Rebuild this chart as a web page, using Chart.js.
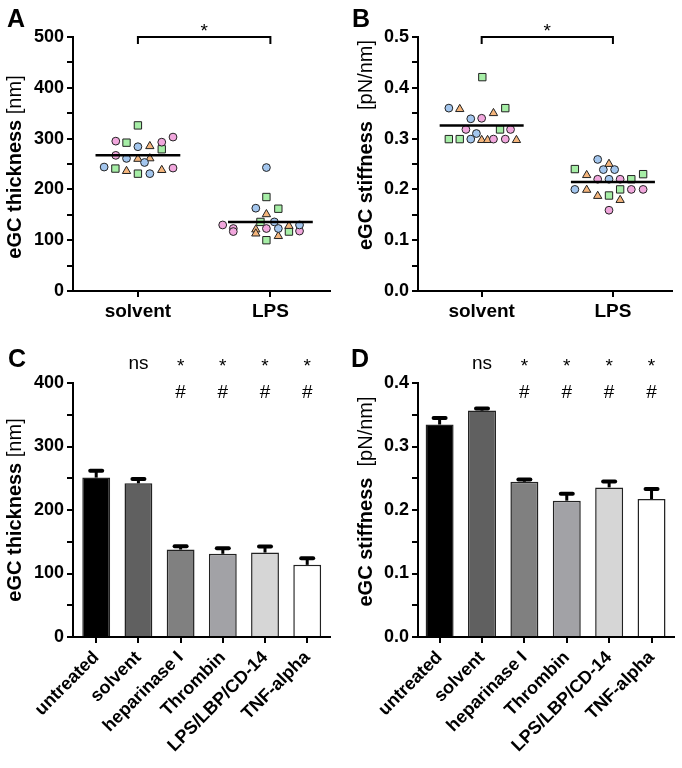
<!DOCTYPE html>
<html>
<head>
<meta charset="utf-8">
<script src="https://cdn.jsdelivr.net/npm/chart.js@4.4.1/dist/chart.umd.min.js"></script>
<style>
  body { margin: 0; background: #fff; }
  #fig { position: relative; width: 682px; height: 768px; }
  canvas { position: absolute; }
</style>
</head>
<body>
<div id="fig">
  <canvas id="chA" width="341" height="384" style="left:0;top:0"></canvas>
  <canvas id="chB" width="341" height="384" style="left:341px;top:0"></canvas>
  <canvas id="chC" width="341" height="438" style="left:0;top:330px"></canvas>
  <canvas id="chD" width="341" height="438" style="left:341px;top:330px"></canvas>
</div>
<script>
// ---- data ----
const groups = ['solvent', 'LPS'];

// panel A: eGC thickness [nm], single measurements; donor 0..3 = blue circle, pink circle, triangle, square
const thickSolvent   = [284, 261, 253, 244, 231, 295, 293, 303, 267, 242, 285, 260, 261, 236, 238, 326, 292, 279, 241, 231];
const thickSolventDx = [0, -0.086, 0.05, -0.255, 0.09, -0.167, 0.18, 0.265, -0.167, 0.265, 0.09, 0, 0.09, -0.086, 0.18, 0, -0.086, 0.18, -0.17, 0];
const thickLPS       = [243, 163, 136, 123, 130, 130, 123, 117, 123, 118, 151, 121, 113, 108, 128, 185, 162, 136, 117, 100];
const thickLPSDx     = [-0.03, -0.11, 0.03, 0.06, 0.22, -0.36, -0.28, -0.28, -0.03, 0.22, -0.03, -0.11, -0.11, 0.06, 0.14, -0.03, 0.06, -0.075, 0.14, -0.03];
const thickDonor     = [0, 0, 0, 0, 0, 1, 1, 1, 1, 1, 2, 2, 2, 2, 2, 3, 3, 3, 3, 3];
const thickMeans     = [267, 136];

// panel B: eGC stiffness [pN/nm]
const stiffSolvent        = [0.360, 0.339, 0.310, 0.299, 0.340, 0.318, 0.318, 0.299, 0.299, 0.358, 0.350, 0.297, 0.297, 0.297, 0.421, 0.360, 0.318, 0.299, 0.299];
const stiffSolventDx      = [-0.25, -0.083, -0.04, -0.083, 0, -0.12, 0.22, 0.09, 0.18, -0.167, 0.09, 0, 0.045, 0.265, 0.005, 0.18, 0.14, -0.25, -0.167];
const stiffSolventDonor   = [0, 0, 0, 0, 1, 1, 1, 1, 1, 2, 2, 2, 2, 2, 3, 3, 3, 3, 3];
const stiffLPS            = [0.259, 0.239, 0.239, 0.220, 0.200, 0.220, 0.220, 0.200, 0.200, 0.159, 0.250, 0.228, 0.199, 0.187, 0.179, 0.240, 0.230, 0.220, 0.200, 0.188];
const stiffLPSDx          = [-0.116, -0.073, 0.013, -0.03, -0.29, -0.116, 0.055, 0.14, 0.23, -0.03, -0.03, -0.2, -0.2, -0.116, 0.055, -0.29, 0.23, 0.14, 0.055, -0.03];
const stiffLPSDonor       = [0, 0, 0, 0, 0, 1, 1, 1, 1, 1, 2, 2, 2, 2, 2, 3, 3, 3, 3, 3];
const stiffMeans          = [0.326, 0.2146];

// panels C and D: treatments, mean + SEM
const treatments = ['untreated', 'solvent', 'heparinase I', 'Thrombin', 'LPS/LBP/CD-14', 'TNF-alpha'];
const thickBar    = [251, 242, 137.7, 131, 133, 113.6];
const thickErr    = [11, 6.7, 5.3, 8.8, 9.4, 10.4];
const stiffBar    = [0.3346, 0.3565, 0.2445, 0.2147, 0.2356, 0.2173];
const stiffErr    = [0.0104, 0.0032, 0.0035, 0.011, 0.0094, 0.0157];
const sigTop      = ['', 'ns', '*', '*', '*', '*'];
const sigBottom   = ['', '', '#', '#', '#', '#'];

// ---- styling ----
const FONT = '"Liberation Sans", Arial, sans-serif';
Chart.defaults.font.family = FONT;
Chart.defaults.color = '#000';

const donorStyle = [
  { pointStyle: 'circle',   color: '#a3c6ee', radius: 3.9 },
  { pointStyle: 'circle',   color: '#f1a7dd', radius: 3.9 },
  { pointStyle: 'triangle', color: '#f4b57c', radius: 4.8 },
  { pointStyle: 'rect',     color: '#a6eea6', radius: 5.2 }
];
const barColors = ['#000000', '#606060', '#808080', '#a2a2a6', '#d6d6d6', '#ffffff'];

function yAxis(max, step, labelStep, decimals, width) {
  return {
    min: 0, max: max,
    afterBuildTicks: ax => {
      const t = [];
      for (let k = 0; k * step <= max + 1e-9; k++) t.push({ value: Math.round(k * step * 1000) / 1000 });
      ax.ticks = t;
    },
    ticks: {
      font: { size: 18, weight: 'bold' }, color: '#000', padding: 3,
      callback: v => Math.abs(v / labelStep - Math.round(v / labelStep)) < 1e-6 ? v.toFixed(decimals) : ''
    },
    grid: { drawOnChartArea: false, drawTicks: true, tickLength: 6, color: '#000', lineWidth: 2 },
    border: { display: true, color: '#000', width: 2 },
    afterFit: s => { s.width = width; s.paddingTop = 0; s.paddingBottom = 0; }
  };
}

function xAxis(labels, min, max, height, rot, size) {
  return {
    type: 'linear', min: min, max: max, offset: false,
    afterBuildTicks: ax => { ax.ticks = labels.map((l, i) => ({ value: i })); },
    ticks: {
      font: { size: size, weight: 'bold' }, color: '#000', padding: rot ? 4 : 3,
      minRotation: rot, maxRotation: rot, autoSkip: false,
      callback: v => labels[v] !== undefined ? labels[v] : ''
    },
    grid: { offset: false, drawOnChartArea: false, drawTicks: true, tickLength: 6, color: '#000', lineWidth: 2 },
    border: { display: true, color: '#000', width: 2 },
    afterFit: s => { s.height = height; s.paddingLeft = 0; s.paddingRight = 0; }
  };
}

// extra drawing: panel letter, two-weight y title, bracket, error bars, significance marks
const extras = {
  id: 'extras',
  afterDatasetsDraw(chart, args, o) {
    const ctx = chart.ctx, xs = chart.scales.x, ys = chart.scales.y;
    ctx.save();
    ctx.fillStyle = '#000';
    ctx.strokeStyle = '#000';

    if (o.err) {
      o.bars.forEach((v, i) => {
        const x = xs.getPixelForValue(i);
        const y0 = ys.getPixelForValue(v), y1 = ys.getPixelForValue(v + o.err[i]);
        ctx.lineCap = 'butt';
        ctx.lineWidth = 3;
        ctx.beginPath(); ctx.moveTo(x, y0); ctx.lineTo(x, y1); ctx.stroke();
        ctx.lineCap = 'round';
        ctx.lineWidth = 4;
        ctx.beginPath(); ctx.moveTo(x - 6, y1); ctx.lineTo(x + 6, y1); ctx.stroke();
      });
    }

    if (o.bracket) {
      const y = ys.getPixelForValue(o.bracket);
      const x0 = xs.getPixelForValue(0), x1 = xs.getPixelForValue(1);
      ctx.lineWidth = 2; ctx.lineCap = 'butt';
      ctx.beginPath();
      ctx.moveTo(x0, y + 7); ctx.lineTo(x0, y); ctx.lineTo(x1, y); ctx.lineTo(x1, y + 7);
      ctx.stroke();
      ctx.font = '19px ' + FONT;
      ctx.textAlign = 'center'; ctx.textBaseline = 'alphabetic';
      ctx.fillText('*', (x0 + x1) / 2, y);
    }

    if (o.top) {
      ctx.font = '19px ' + FONT;
      ctx.textAlign = 'center'; ctx.textBaseline = 'alphabetic';
      o.top.forEach((t, i) => {
        const x = xs.getPixelForValue(i);
        ctx.fillText(t, x, t === 'ns' ? o.topY - 3 : o.topY);
        ctx.fillText(o.bottom[i], x, o.bottomY);
      });
    }

    // panel letter
    ctx.font = 'bold 25px ' + FONT;
    ctx.textAlign = 'left'; ctx.textBaseline = 'alphabetic';
    ctx.fillText(o.letter, o.letterX, o.letterY);

    // y title: bold part + regular unit
    const fb = 'bold 20px ' + FONT, fn = '20px ' + FONT;
    ctx.font = fb; const wb = ctx.measureText(o.titleBold).width;
    ctx.font = fn; const wn = ctx.measureText(o.titleUnit).width;
    ctx.translate(o.titleX, o.titleY);
    ctx.rotate(-Math.PI / 2);
    ctx.textBaseline = 'middle'; ctx.textAlign = 'left';
    ctx.font = fb; ctx.fillText(o.titleBold, -(wb + wn) / 2, 0);
    ctx.font = fn; ctx.fillText(o.titleUnit, -(wb + wn) / 2 + wb, 0);
    ctx.restore();
  }
};

function scatterSets(solv, solvDx, solvDonor, lps, lpsDx, lpsDonor, means) {
  const sets = means.map((m, g) => ({
    type: 'scatter', showLine: true, data: [{ x: g - 0.32, y: m }, { x: g + 0.32, y: m }],
    borderColor: '#000', borderWidth: 2.5, pointRadius: 0, order: 0
  }));
  donorStyle.forEach((st, d) => {
    const pts = [];
    solv.forEach((v, i) => { if (solvDonor[i] === d) pts.push({ x: 0 + solvDx[i], y: v }); });
    lps.forEach((v, i) => { if (lpsDonor[i] === d) pts.push({ x: 1 + lpsDx[i], y: v }); });
    sets.push({
      data: pts, pointStyle: st.pointStyle, pointRadius: st.radius, pointHoverRadius: st.radius,
      backgroundColor: st.color, borderColor: '#222', borderWidth: 1, order: 1
    });
  });
  return sets;
}

// ---- panel A ----
new Chart(document.getElementById('chA'), {
  type: 'scatter',
  data: { datasets: scatterSets(thickSolvent, thickSolventDx, thickDonor, thickLPS, thickLPSDx, thickDonor, thickMeans) },
  options: {
    responsive: false, animation: false,
    layout: { padding: { top: 37, right: 11, left: 0, bottom: 0 } },
    plugins: {
      legend: { display: false }, tooltip: { enabled: false },
      extras: { letter: 'A', letterX: 7, letterY: 27, titleBold: 'eGC thickness', titleUnit: ' [nm]',
                titleX: 15.5, titleY: 167, bracket: 500 }
    },
    scales: { x: xAxis(groups, -0.49, 1.45, 93, 0, 19), y: yAxis(500, 50, 100, 0, 73) }
  },
  plugins: [extras]
});

// ---- panel B ----
new Chart(document.getElementById('chB'), {
  type: 'scatter',
  data: { datasets: scatterSets(stiffSolvent, stiffSolventDx, stiffSolventDonor, stiffLPS, stiffLPSDx, stiffLPSDonor, stiffMeans) },
  options: {
    responsive: false, animation: false,
    layout: { padding: { top: 37, right: 10, left: 0, bottom: 0 } },
    plugins: {
      legend: { display: false }, tooltip: { enabled: false },
      extras: { letter: 'B', letterX: 11, letterY: 27, titleBold: 'eGC stiffness', titleUnit: '  [pN/nm]',
                titleX: 25.5, titleY: 145, bracket: 0.5 }
    },
    scales: { x: xAxis(groups, -0.485, 1.45, 93, 0, 19), y: yAxis(0.5, 0.05, 0.1, 1, 77) }
  },
  plugins: [extras]
});

// ---- panel C ----
new Chart(document.getElementById('chC'), {
  type: 'bar',
  data: {
    datasets: [{
      data: thickBar.map((v, i) => ({ x: i, y: v })),
      backgroundColor: barColors, borderColor: '#222', borderWidth: 1.5,
      barPercentage: 0.66, categoryPercentage: 1
    }]
  },
  options: {
    responsive: false, animation: false,
    layout: { padding: { top: 53, right: 11, left: 0, bottom: 0 } },
    plugins: {
      legend: { display: false }, tooltip: { enabled: false },
      extras: { letter: 'C', letterX: 8, letterY: 37, titleBold: 'eGC thickness', titleUnit: ' [nm]',
                titleX: 15.5, titleY: 180, bars: thickBar, err: thickErr,
                top: sigTop, bottom: sigBottom, topY: 41.5, bottomY: 68.3 }
    },
    scales: { x: xAxis(treatments, -0.55, 5.54, 131, 45, 18), y: yAxis(400, 50, 100, 0, 73) }
  },
  plugins: [extras]
});

// ---- panel D ----
new Chart(document.getElementById('chD'), {
  type: 'bar',
  data: {
    datasets: [{
      data: stiffBar.map((v, i) => ({ x: i, y: v })),
      backgroundColor: barColors, borderColor: '#222', borderWidth: 1.5,
      barPercentage: 0.66, categoryPercentage: 1
    }]
  },
  options: {
    responsive: false, animation: false,
    layout: { padding: { top: 53, right: 8, left: 0, bottom: 0 } },
    plugins: {
      legend: { display: false }, tooltip: { enabled: false },
      extras: { letter: 'D', letterX: 10, letterY: 37, titleBold: 'eGC stiffness', titleUnit: '  [pN/nm]',
                titleX: 25.5, titleY: 171.5, bars: stiffBar, err: stiffErr,
                top: sigTop, bottom: sigBottom, topY: 41.5, bottomY: 68.3 }
    },
    scales: { x: xAxis(treatments, -0.51, 5.53, 131, 45, 18), y: yAxis(0.4, 0.05, 0.1, 1, 77) }
  },
  plugins: [extras]
});
</script>
</body>
</html>
